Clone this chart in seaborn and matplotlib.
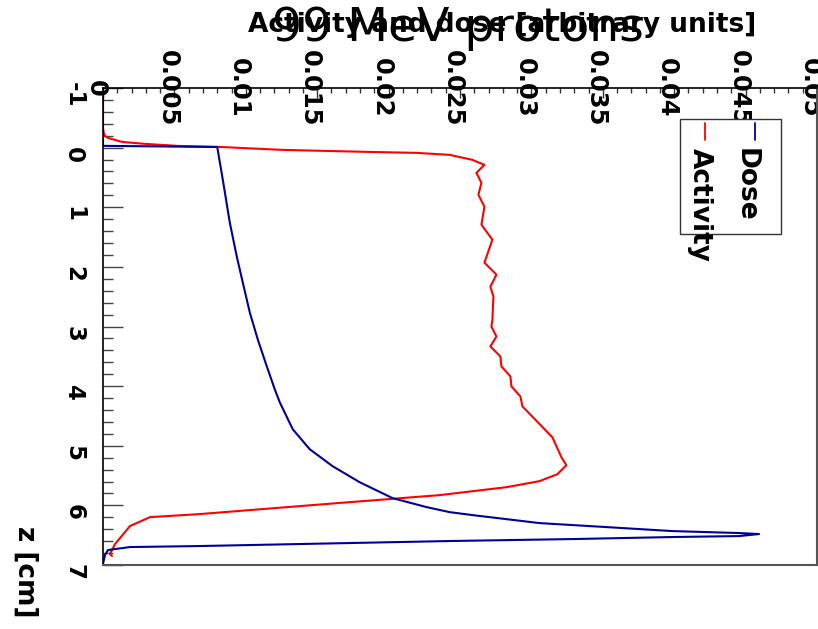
import numpy as np
import pandas as pd
import matplotlib
matplotlib.use("Agg")
import matplotlib.pyplot as plt
import seaborn as sns
from matplotlib.transforms import ScaledTranslation
from matplotlib.patches import Rectangle
from matplotlib.lines import Line2D
from matplotlib.ticker import MultipleLocator

# ---------------- data ----------------
dose_z = [-1.0, -0.03, -0.01, 0.54, 1.259, 1.828, 2.264, 2.766, 3.218, 3.669, 4.054,
          4.272, 4.724, 5.059, 5.343, 5.611, 5.879, 6.029, 6.113, 6.163, 6.297, 6.364,
          6.431, 6.464, 6.481, 6.515, 6.531, 6.565, 6.598, 6.682, 6.699, 6.749, 6.833, 6.983]
dose_val = [0.0, 0.0, 0.0080, 0.00839, 0.00888, 0.00937, 0.00979, 0.01028, 0.01084, 0.01147,
            0.01203, 0.01238, 0.01329, 0.01448, 0.01608, 0.01797, 0.02028, 0.02266, 0.02427,
            0.02587, 0.03056, 0.03524, 0.03986, 0.04455, 0.04594, 0.04455, 0.03986, 0.03287,
            0.02427, 0.00678, 0.00189, 0.00035, 0.00014, 0.0]

act_z = [-1.0, -0.331, -0.247, -0.197, -0.163, -0.096, -0.063, -0.029, -0.013, 0.038, 0.071,
         0.088, 0.121, 0.205, 0.289, 0.423, 0.590, 0.791, 0.992, 1.293, 1.544, 1.929, 2.130,
         2.331, 2.498, 2.883, 3.000, 3.167, 3.335, 3.502, 3.669, 3.837, 4.004, 4.172, 4.339,
         4.858, 5.192, 5.326, 5.477, 5.594, 5.695, 5.828, 5.979, 6.146, 6.197, 6.347, 6.649,
         6.816, 6.849]
act_val = [0.0, 0.0, 0.00005, 0.00014, 0.00035, 0.00133, 0.00294, 0.00524, 0.00804, 0.01259,
           0.01846, 0.02196, 0.02427, 0.02587, 0.02671, 0.02615, 0.02650, 0.02629, 0.02671,
           0.02650, 0.02727, 0.02671, 0.02755, 0.02713, 0.02734, 0.02727, 0.02720, 0.02755,
           0.02713, 0.02783, 0.02790, 0.02853, 0.02860, 0.02923, 0.02937, 0.03147, 0.03210,
           0.03245, 0.03182, 0.03056, 0.02825, 0.02357, 0.01552, 0.00678, 0.00329, 0.00189,
           0.00084, 0.00049, 0.00063]

x_ticks = [0, 0.005, 0.01, 0.015, 0.02, 0.025, 0.03, 0.035, 0.04, 0.045, 0.05]
x_tick_labels = ["0", "0.005", "0.01", "0.015", "0.02", "0.025", "0.03", "0.035", "0.04", "0.045", "0.05"]
y_ticks = [-1, 0, 1, 2, 3, 4, 5, 6, 7]
y_tick_labels = ["-1", "0", "1", "2", "3", "4", "5", "6", "7"]
series_names = ["Activity", "Dose"]
series_colors = ["#ff0000", "#000099"]
title_text = "99 MeV protons"
x_label = "Activity and dose [arbitrary units]"
y_label = "z [cm]"

# ---------------- figure ----------------
sns.set_style("white")
plt.rcParams["font.family"] = ["DejaVu Sans"]
plt.rcParams["axes.unicode_minus"] = False
plt.rcParams["text.color"] = "black"
plt.rcParams["axes.labelcolor"] = "black"
plt.rcParams["xtick.color"] = "black"
plt.rcParams["ytick.color"] = "black"
plt.rcParams["xtick.labelcolor"] = "black"
plt.rcParams["ytick.labelcolor"] = "black"

W, H = 818, 629
fig = plt.figure(figsize=(W / 100, H / 100), dpi=100)
ax = fig.add_axes([103 / W, 1 - 565 / H, 714 / W, 477 / H])

act_df = pd.DataFrame({"z": act_z, "value": act_val})
dose_df = pd.DataFrame({"z": dose_z, "value": dose_val})
sns.lineplot(data=act_df, x="value", y="z", orient="y", sort=False, estimator=None,
             color=series_colors[0], lw=1.5, ax=ax)
sns.lineplot(data=dose_df, x="value", y="z", orient="y", sort=False, estimator=None,
             color=series_colors[1], lw=1.5, ax=ax)

ax.set_xlim(0, 0.05)
ax.set_ylim(7, -1)

# spines
for side in ["left", "top"]:
    ax.spines[side].set_color("black")
    ax.spines[side].set_linewidth(1.2)
for side in ["right", "bottom"]:
    ax.spines[side].set_color("#555555")
    ax.spines[side].set_linewidth(1.5)

# x axis on top
ax.xaxis.tick_top()
ax.set_xticks(x_ticks)
ax.set_xticklabels(x_tick_labels)
ax.xaxis.set_minor_locator(MultipleLocator(0.001))
ax.tick_params(axis="x", which="both", top=True, bottom=False, labeltop=True,
               labelbottom=False, direction="in", pad=0, color="#333333")
ax.tick_params(axis="x", which="major", length=7, width=1)
ax.tick_params(axis="x", which="minor", length=3.6, width=1)

ax.set_yticks(y_ticks)
ax.set_yticklabels(y_tick_labels)
ax.yaxis.set_minor_locator(MultipleLocator(0.2))
ax.tick_params(axis="y", which="both", left=True, right=False, direction="in",
               pad=21, color="#444444")
ax.tick_params(axis="y", which="major", length=14.4, width=1)
ax.tick_params(axis="y", which="minor", length=7.2, width=1)

xoff = ScaledTranslation(-7 / 100, 0, fig.dpi_scale_trans)
for lbl in ax.get_xticklabels():
    lbl.set_rotation(-90)
    lbl.set_fontsize(17.5)
    lbl.set_fontweight("heavy")
    lbl.set_color("black")
    lbl.set_ha("center")
    lbl.set_va("center")
    lbl.set_transform(lbl.get_transform() + xoff)

yoff = ScaledTranslation(0, -7 / 100, fig.dpi_scale_trans)
for lbl in ax.get_yticklabels():
    lbl.set_rotation(-90)
    lbl.set_fontsize(16.5)
    lbl.set_fontweight("heavy")
    lbl.set_color("black")
    lbl.set_ha("center")
    lbl.set_va("center")
    lbl.set_transform(lbl.get_transform() + yoff)

# axis labels
ax.xaxis.set_label_position("top")
ax.set_xlabel(x_label, fontsize=19, fontweight="heavy", color="black")
ax.xaxis.set_label_coords((502 - 103) / 714, (565 - 25) / 477)
ax.xaxis.label.set_va("center")
ax.set_ylabel(y_label, fontsize=19, fontweight="heavy", rotation=-90, va="center",
              ha="center", color="black")
ax.yaxis.set_label_coords((25 - 103) / 714, (565 - 572) / 477)

# title
fig.text(458 / W, 1 - 41 / H, title_text, fontsize=34, ha="center", va="baseline",
         color="black")

# legend (manual, rotated like the reference)
def fx(px):
    return px / W

def fy(py):
    return 1 - py / H

box = Rectangle((fx(680), fy(234)), fx(781) - fx(680), fy(119) - fy(234),
                transform=fig.transFigure, facecolor="white", edgecolor="#333333",
                lw=1, zorder=5)
fig.add_artist(box)
for name, col, lx, tx in zip(series_names, series_colors, [705, 755], [700, 746]):
    fig.add_artist(Line2D([fx(lx), fx(lx)], [fy(123), fy(140)], transform=fig.transFigure,
                          color=col, lw=1.3, zorder=6))
    fig.text(fx(tx), fy(148), name, rotation=-90, fontsize=19, fontweight="heavy",
             ha="center", va="top", zorder=7, color="black")

fig.savefig("out.png", dpi=100)
